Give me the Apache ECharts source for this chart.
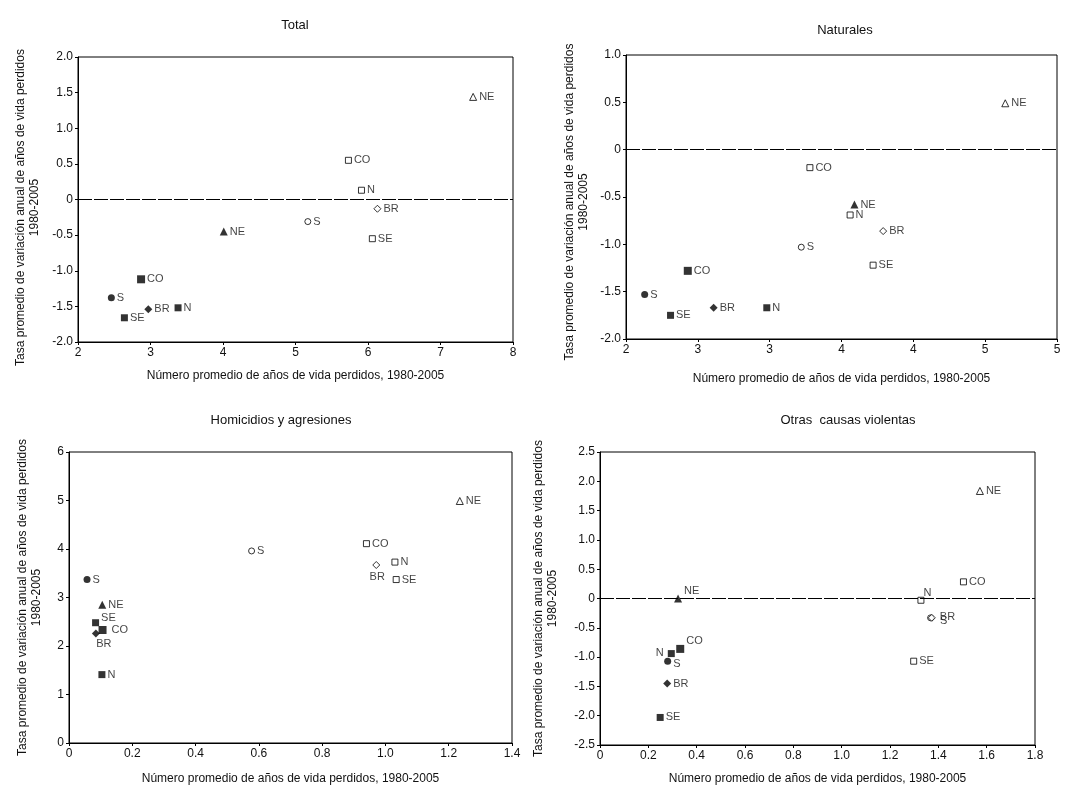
<!DOCTYPE html>
<html lang="es">
<head>
<meta charset="UTF-8">
<title>Años de vida perdidos</title>
<script src="https://cdn.jsdelivr.net/npm/echarts@6/dist/echarts.min.js"></script>
<style>
  html, body { margin: 0; padding: 0; background: #fff; }
  #chart { width: 1067px; height: 797px; }
</style>
</head>
<body>
<div id="chart"></div>
<script>
// regiones, en el mismo orden en todos los arrays
var regions = ['N', 'NE', 'SE', 'S', 'CO', 'BR'];

// Total
var totalFilledX = [3.38, 4.01, 2.64, 2.46, 2.87, 2.97];
var totalFilledY = [-1.52, -0.45, -1.66, -1.38, -1.12, -1.54];
var totalOpenX = [5.91, 7.45, 6.06, 5.17, 5.73, 6.13];
var totalOpenY = [0.13, 1.44, -0.55, -0.31, 0.55, -0.13];

// Naturales
var natFilledX = [2.98, 3.59, 2.31, 2.13, 2.43, 2.61];
var natFilledY = [-1.67, -0.58, -1.75, -1.53, -1.28, -1.67];
var natOpenX = [3.56, 4.64, 3.72, 3.22, 3.28, 3.79];
var natOpenY = [-0.69, 0.49, -1.22, -1.03, -0.19, -0.86];
var natXTicks = ['2', '3', '3', '4', '4', '5', '5'];

// Homicidios y agresiones
var homFilledX = [0.104, 0.105, 0.084, 0.057, 0.106, 0.085];
var homFilledY = [1.41, 2.85, 2.48, 3.37, 2.33, 2.26];
var homOpenX = [1.03, 1.235, 1.034, 0.577, 0.94, 0.971];
var homOpenY = [3.73, 4.99, 3.37, 3.96, 4.11, 3.67];

// Otras causas violentas
var otrFilledX = [0.295, 0.323, 0.249, 0.28, 0.332, 0.278];
var otrFilledY = [-0.94, 0.0, -2.03, -1.07, -0.86, -1.45];
var otrOpenX = [1.328, 1.572, 1.298, 1.368, 1.504, 1.373];
var otrOpenY = [-0.03, 1.835, -1.07, -0.33, 0.284, -0.33];

var yName = 'Tasa promedio de variación anual de años de vida perdidos\n1980-2005';
var xName = 'Número promedio de años de vida perdidos, 1980-2005';
var font = 'Liberation Sans, Arial, sans-serif';

var symbols = { N: 'rect', NE: 'triangle', SE: 'rect', S: 'circle', CO: 'rect', BR: 'diamond' };
var sizes = { rect: 7, triangle: 8, circle: 7, diamond: 8 };

// colocación especial de etiquetas (el resto va a la derecha)
var labelPos = {
  'hom-f-SE': { position: 'right', offset: [0, -5] },
  'hom-f-BR': { position: 'bottom', offset: [8, -1] },
  'hom-f-CO': { position: 'right', offset: [3, 0] },
  'hom-o-BR': { position: 'bottom', offset: [1, 0] },
  'otr-f-N': { position: 'left', offset: [-2, -1] },
  'otr-f-S': { position: 'right', offset: [0, 3] },
  'otr-f-CO': { position: 'right', offset: [0, -8] },
  'otr-f-NE': { position: 'right', offset: [0, -8] },
  'otr-o-N': { position: 'right', offset: [-3, -7] },
  'otr-o-S': { position: 'right', offset: [4, 3] },
  'otr-o-BR': { position: 'right', offset: [2, -1] }
};

function buildData(key, xs, ys, filled) {
  return regions.map(function (r, i) {
    var sym = symbols[r];
    var item = {
      name: r,
      value: [xs[i], ys[i]],
      symbol: sym,
      symbolSize: filled && r === 'CO' ? 8 : sizes[sym] - (filled ? 0 : 1),
      itemStyle: {
        color: filled ? '#000' : '#fff',
        borderColor: '#000',
        borderWidth: filled ? 0 : 1
      }
    };
    var lp = labelPos[key + '-' + (filled ? 'f' : 'o') + '-' + r];
    if (lp) item.label = lp;
    return item;
  });
}

function scatter(idx, key, xs, ys, filled, zeroLine) {
  var s = {
    type: 'scatter',
    xAxisIndex: idx,
    yAxisIndex: idx,
    data: buildData(key, xs, ys, filled),
    label: {
      show: true,
      position: 'right',
      distance: 2,
      formatter: '{b}',
      color: '#111',
      fontSize: 11,
      fontFamily: font
    },
    emphasis: { disabled: true },
    z: 3
  };
  if (zeroLine) {
    s.markLine = {
      silent: true,
      symbol: 'none',
      label: { show: false },
      lineStyle: { color: '#000', width: 1, type: [14, 2] },
      data: [{ yAxis: 0 }]
    };
  }
  return s;
}

function oneDec(v) { return v === 0 ? '0' : v.toFixed(1); }

function xAxis(idx, min, max, interval, fmt, gap) {
  return {
    gridIndex: idx, type: 'value', min: min, max: max, interval: interval,
    name: xName, nameLocation: 'middle', nameGap: gap,
    nameTextStyle: { color: '#111', fontSize: 12, fontFamily: font },
    axisLine: { show: true, onZero: false, lineStyle: { color: '#000', width: 1 } },
    axisTick: { show: true, length: 3, lineStyle: { color: '#000' } },
    axisLabel: { color: '#111', fontSize: 12, fontFamily: font, margin: 5, formatter: fmt },
    splitLine: { show: false }
  };
}

function yAxis(idx, min, max, interval, fmt, gap, shift) {
  return {
    gridIndex: idx, type: 'value', min: min, max: max, interval: interval,
    name: yName, nameLocation: 'middle', nameGap: gap, nameRotate: 90,
    nameTextStyle: { color: '#111', fontSize: 12, fontFamily: font, lineHeight: 14,
      padding: [0, shift || 0, 0, 0] },
    axisLine: { show: true, onZero: false, lineStyle: { color: '#000', width: 1 } },
    axisTick: { show: true, length: 3, lineStyle: { color: '#000' } },
    axisLabel: { color: '#111', fontSize: 12, fontFamily: font, margin: 5, formatter: fmt },
    splitLine: { show: false }
  };
}

var chart = echarts.init(document.getElementById('chart'));
var gridBase = { show: true, borderColor: '#000', borderWidth: 1, backgroundColor: 'transparent', containLabel: false };
function titleAt(text, x, y) {
  return { text: text, left: x, top: y, textAlign: 'center',
    textStyle: { color: '#111', fontSize: 13, fontWeight: 'normal', fontFamily: font } };
}

chart.setOption({
  animation: false,
  backgroundColor: '#fff',
  title: [
    titleAt('Total', 290, 14),
    titleAt('Naturales', 840, 19),
    titleAt('Homicidios y agresiones', 276, 409),
    titleAt('Otras  causas violentas', 843, 409)
  ],
  grid: [
    Object.assign({ left: 78, top: 57, width: 435, height: 285 }, gridBase),
    Object.assign({ left: 626, top: 55, width: 431, height: 284 }, gridBase),
    Object.assign({ left: 69, top: 452, width: 443, height: 291 }, gridBase),
    Object.assign({ left: 600, top: 452, width: 435, height: 293 }, gridBase)
  ],
  xAxis: [
    xAxis(0, 2, 8, 1, function (v) { return String(v); }, 28),
    xAxis(1, 2, 5, 0.5, function (v, i) { return natXTicks[i]; }, 34),
    xAxis(2, 0, 1.4, 0.2, oneDec, 30),
    xAxis(3, 0, 1.8, 0.2, oneDec, 28)
  ],
  yAxis: [
    yAxis(0, -2, 2, 0.5, oneDec, 36, 16),
    yAxis(1, -2, 1, 0.5, oneDec, 35, 10),
    yAxis(2, 0, 6, 1, function (v) { return String(v); }, 25),
    yAxis(3, -2.5, 2.5, 0.5, oneDec, 40)
  ],
  series: [
    scatter(0, 'tot', totalFilledX, totalFilledY, true, true),
    scatter(0, 'tot', totalOpenX, totalOpenY, false, false),
    scatter(1, 'nat', natFilledX, natFilledY, true, true),
    scatter(1, 'nat', natOpenX, natOpenY, false, false),
    scatter(2, 'hom', homFilledX, homFilledY, true, false),
    scatter(2, 'hom', homOpenX, homOpenY, false, false),
    scatter(3, 'otr', otrFilledX, otrFilledY, true, true),
    scatter(3, 'otr', otrOpenX, otrOpenY, false, false)
  ]
});
</script>
</body>
</html>
